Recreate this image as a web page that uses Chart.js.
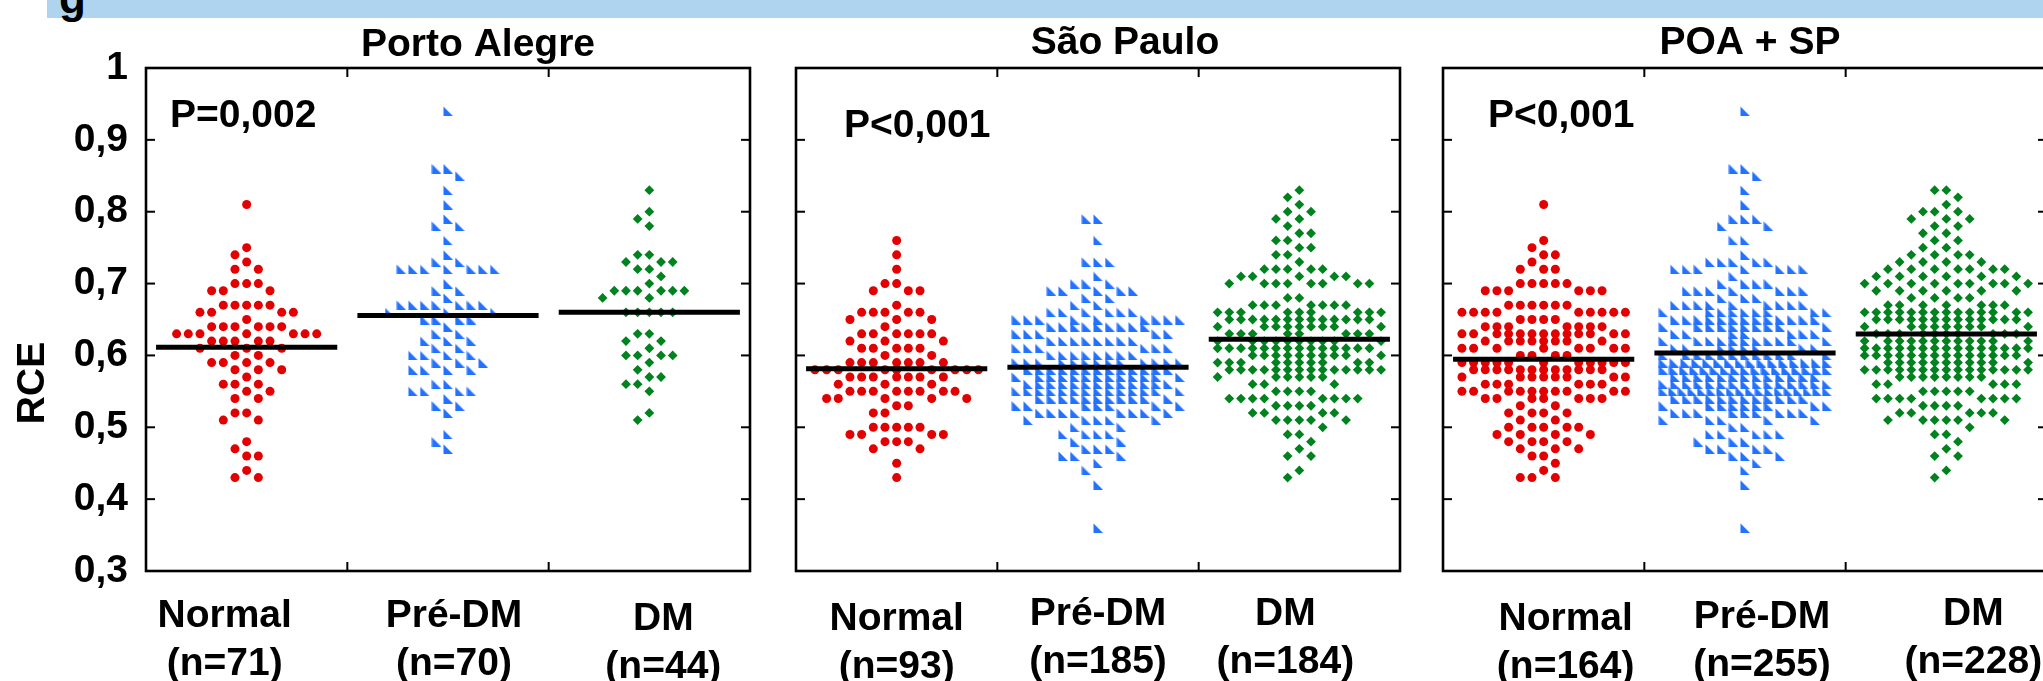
<!DOCTYPE html>
<html>
<head>
<meta charset="utf-8">
<script src="https://cdn.jsdelivr.net/npm/chart.js@4.4.1/dist/chart.umd.min.js"></script>
<style>
    html, body { margin: 0; padding: 0; background: #fff; overflow: hidden; width: 2043px; height: 681px; position: relative; }
    #band { position: absolute; left: 47px; top: 0; width: 1996px; height: 18px; background: #afd4ef; }
    #cut { position: absolute; left: 59px; top: -24px; font: bold 44px/44px "Liberation Sans", Arial, sans-serif; color: #000; }
    canvas { position: absolute; top: 0; }
</style>
</head>
<body>
<div id="band"></div>
<div id="cut">g</div>
<canvas id="c1" width="770" height="681" style="left:0px"></canvas>
<canvas id="c2" width="650" height="681" style="left:770px"></canvas>
<canvas id="c3" width="640" height="681" style="left:1420px"></canvas>
<script>
    // RCE values (each row = value, number of dots)
    var poaNormalVals = [0.81, 0.75, 0.74, 0.73, 0.72, 0.70, 0.69, 0.67, 0.66, 0.65, 0.64, 0.63, 0.62, 0.61, 0.60, 0.59, 0.58, 0.57, 0.56, 0.55, 0.54, 0.52, 0.51, 0.48, 0.47, 0.46, 0.44, 0.43];
    var poaNormalCounts = [1, 1, 1, 1, 2, 3, 3, 5, 4, 1, 6, 7, 5, 3, 2, 4, 3, 1, 3, 2, 2, 2, 2, 1, 1, 2, 1, 2];

    var poaPreVals = [0.94, 0.86, 0.85, 0.83, 0.81, 0.79, 0.78, 0.76, 0.74, 0.73, 0.72, 0.70, 0.69, 0.68, 0.67, 0.66, 0.65, 0.64, 0.63, 0.62, 0.61, 0.60, 0.59, 0.58, 0.56, 0.55, 0.54, 0.53, 0.52, 0.49, 0.48, 0.47];
    var poaPreCounts = [1, 2, 1, 1, 1, 1, 2, 1, 1, 2, 7, 1, 2, 1, 7, 3, 4, 1, 2, 3, 2, 4, 3, 4, 2, 4, 1, 2, 1, 1, 1, 1];

    var poaDmVals = [0.83, 0.80, 0.79, 0.78, 0.74, 0.73, 0.72, 0.71, 0.70, 0.69, 0.68, 0.66, 0.63, 0.62, 0.61, 0.60, 0.59, 0.58, 0.57, 0.56, 0.55, 0.52, 0.51];
    var poaDmCounts = [1, 1, 1, 1, 2, 3, 2, 1, 1, 6, 2, 5, 2, 2, 1, 4, 1, 1, 2, 2, 1, 1, 1];

    var spNormalVals = [0.76, 0.74, 0.72, 0.70, 0.69, 0.67, 0.66, 0.65, 0.64, 0.63, 0.62, 0.61, 0.60, 0.59, 0.58, 0.57, 0.56, 0.55, 0.54, 0.53, 0.52, 0.50, 0.49, 0.48, 0.47, 0.45, 0.43];
    var spNormalCounts = [1, 1, 1, 2, 3, 1, 5, 3, 1, 6, 3, 5, 2, 7, 9, 7, 3, 8, 5, 2, 2, 5, 4, 3, 2, 1, 1];

    var spPreVals = [0.79, 0.76, 0.73, 0.71, 0.70, 0.69, 0.68, 0.67, 0.66, 0.65, 0.64, 0.63, 0.62, 0.61, 0.60, 0.59, 0.58, 0.57, 0.56, 0.55, 0.54, 0.53, 0.52, 0.51, 0.50, 0.49, 0.48, 0.47, 0.46, 0.45, 0.44, 0.42, 0.36];
    var spPreCounts = [2, 1, 3, 1, 3, 5, 2, 2, 6, 9, 9, 5, 8, 6, 8, 13, 13, 13, 13, 14, 11, 7, 8, 5, 2, 4, 2, 3, 3, 1, 1, 1, 1];

    var spDmVals = [0.83, 0.82, 0.81, 0.80, 0.79, 0.78, 0.77, 0.76, 0.75, 0.74, 0.73, 0.72, 0.71, 0.70, 0.68, 0.67, 0.66, 0.65, 0.64, 0.63, 0.62, 0.61, 0.60, 0.59, 0.58, 0.57, 0.56, 0.55, 0.54, 0.53, 0.52, 0.51, 0.50, 0.49, 0.48, 0.47, 0.46, 0.44, 0.43];
    var spDmCounts = [1, 1, 1, 2, 2, 1, 2, 2, 2, 2, 1, 5, 5, 8, 2, 7, 9, 13, 9, 8, 10, 14, 10, 10, 14, 6, 3, 4, 8, 4, 4, 5, 1, 2, 1, 1, 2, 1, 1];

    var groupNames = ["Normal", "Pré-DM", "DM"];
    var panelTitles = ["Porto Alegre", "São Paulo", "POA + SP"];
    var pValues = ["P=0,002", "P<0,001", "P<0,001"];

    var FONT = 'bold 39px "Liberation Sans", Arial, sans-serif';
    var COL = 0.058;   // column step of the dot swarm, in x units
    var KMAX = 7;

    Chart.defaults.font.family = '"Liberation Sans", Arial, sans-serif';
    Chart.defaults.font.weight = "bold";
    Chart.defaults.font.size = 39;
    Chart.defaults.color = "#000";

    function merge(aVals, aCounts, bVals, bCounts) {
        var map = {};
        function add(vals, counts) {
            vals.forEach(function (v, i) {
                var key = Math.round(v * 100);
                map[key] = (map[key] || 0) + counts[i];
            });
        }
        add(aVals, aCounts);
        add(bVals, bCounts);
        var keys = Object.keys(map).map(Number).sort(function (a, b) { return b - a; });
        return { vals: keys.map(function (k) { return k / 100; }), counts: keys.map(function (k) { return map[k]; }) };
    }

    // simple grid beeswarm: each dot goes to the nearest free column of its row,
    // avoiding the columns already used by the neighbouring rows when possible
    function swarm(vals, counts) {
        var rows = vals.map(function (v, i) { return { v: v, n: counts[i] }; }).sort(function (a, b) { return b.v - a.v; });
        var order = [0];
        for (var k = 1; k <= KMAX; k++) { order.push(-k, k); }
        var occ = {};
        var out = [];
        rows.forEach(function (row) {
            var r = Math.round(row.v * 100);
            var near = new Set([].concat(occ[r + 1] || [], occ[r - 1] || []));
            var own = new Set();
            if (row.n > order.length) {
                for (var i = 0; i < row.n; i++) {
                    out.push({ k: -KMAX + i * 2 * KMAX / (row.n - 1), v: row.v });
                }
            } else {
                for (var j = 0; j < row.n; j++) {
                    var c = order.find(function (o) { return !own.has(o) && !near.has(o); });
                    if (c === undefined) { c = order.find(function (o) { return !own.has(o); }); }
                    own.add(c);
                    out.push({ k: c, v: row.v });
                }
            }
            occ[r] = Array.from(own);
        });
        return out;
    }

    function total(counts) { return counts.reduce(function (s, n) { return s + n; }, 0); }
    function mean(vals, counts) {
        var s = 0;
        vals.forEach(function (v, i) { s += v * counts[i]; });
        return s / total(counts);
    }

    function triangleMarker(size, color) {
        var c = document.createElement("canvas");
        c.width = size;
        c.height = size;
        var g = c.getContext("2d");
        g.fillStyle = color;
        g.beginPath();
        g.moveTo(0.5, 0.5);
        g.lineTo(0.5, size);
        g.lineTo(size, size);
        g.closePath();
        g.fill();
        return c;
    }

    var RED = "#e20000", BLUE = "#2272ff", GREEN = "#00821e";
    var markers = [
        { pointStyle: "circle", pointRadius: 4.5, color: RED },
        { pointStyle: triangleMarker(10, BLUE), pointRadius: 5, color: BLUE },
        { pointStyle: "rectRot", pointRadius: 4.9, color: GREEN }
    ];

    var poaAll = [
        { vals: poaNormalVals, counts: poaNormalCounts },
        { vals: poaPreVals, counts: poaPreCounts },
        { vals: poaDmVals, counts: poaDmCounts }
    ];
    var spAll = [
        { vals: spNormalVals, counts: spNormalCounts },
        { vals: spPreVals, counts: spPreCounts },
        { vals: spDmVals, counts: spDmCounts }
    ];
    var bothAll = poaAll.map(function (g, i) {
        return merge(g.vals, g.counts, spAll[i].vals, spAll[i].counts);
    });

    var panels = [
        { id: "c1", left: 0, padL: 0, padR: 20, showY: true, groups: poaAll,
          titleX: 478, titleY: 56, pX: 170, pY: 127, labelShift: [-22, 6, 14], labelY: [627, 627, 630] },
        { id: "c2", left: 770, padL: 26, padR: 20, showY: false, groups: spAll,
          titleX: 1125, titleY: 54, pX: 844, pY: 137, labelShift: [0, 0, -14], labelY: [630, 625, 625] },
        { id: "c3", left: 1420, padL: 23, padR: 13, showY: false, groups: bothAll,
          titleX: 1750, titleY: 54, pX: 1488, pY: 127, labelShift: [22, 17, 27], labelY: [630, 628, 625] }
    ];

    function makeDeco(panel, index) {
        return {
            id: "panelDeco" + index,
            afterDatasetsDraw: function (chart) {
                var ctx = chart.ctx, a = chart.chartArea;
                var xs = chart.scales.x, ys = chart.scales.y;
                function line(x1, y1, x2, y2) { ctx.beginPath(); ctx.moveTo(x1, y1); ctx.lineTo(x2, y2); ctx.stroke(); }
                ctx.save();
                ctx.strokeStyle = "#000";
                ctx.lineWidth = 2;
                ys.ticks.forEach(function (t) {
                    var y = ys.getPixelForValue(t.value);
                    line(a.left, y, a.left + 9, y);
                    line(a.right, y, a.right - 9, y);
                });
                [1.5, 2.5].forEach(function (v) {
                    var x = xs.getPixelForValue(v);
                    line(x, a.top, x, a.top + 9);
                    line(x, a.bottom, x, a.bottom - 9);
                });
                ctx.lineWidth = 2.6;
                ctx.strokeRect(a.left, a.top, a.right - a.left, a.bottom - a.top);

                ctx.font = FONT;
                ctx.fillStyle = "#000";
                ctx.textBaseline = "alphabetic";
                ctx.textAlign = "center";
                ctx.fillText(panelTitles[index], panel.titleX - panel.left, panel.titleY);
                groupNames.forEach(function (name, i) {
                    var x = xs.getPixelForValue(i + 1) + panel.labelShift[i];
                    ctx.fillText(name, x, panel.labelY[i]);
                    ctx.fillText("(n=" + total(panel.groups[i].counts) + ")", x, panel.labelY[i] + 48);
                });
                ctx.textAlign = "left";
                ctx.fillText(pValues[index], panel.pX - panel.left, panel.pY);
                if (panel.showY) {
                    ctx.translate(33, 383);
                    ctx.rotate(-Math.PI / 2);
                    ctx.textAlign = "center";
                    ctx.textBaseline = "middle";
                    ctx.fillText("RCE", 0, 0);
                }
                ctx.restore();
            }
        };
    }

    panels.forEach(function (panel, index) {
        var datasets = [];
        panel.groups.forEach(function (g, i) {
            var m = markers[i];
            datasets.push({
                data: swarm(g.vals, g.counts).map(function (p) { return { x: i + 1 + p.k * COL, y: p.v }; }),
                pointStyle: m.pointStyle,
                pointRadius: m.pointRadius,
                pointBackgroundColor: m.color,
                pointBorderWidth: 0,
                order: 1
            });
            var mu = mean(g.vals, g.counts);
            datasets.push({
                data: [{ x: i + 1 - 0.45, y: mu }, { x: i + 1 + 0.45, y: mu }],
                showLine: true,
                borderColor: "#000",
                borderWidth: 5,
                pointRadius: 0,
                order: 0
            });
        });

        var yAxis = {
            type: "linear",
            min: 0.3,
            max: 1,
            display: panel.showY,
            grid: { display: false },
            border: { display: false },
            ticks: {
                stepSize: 0.1,
                padding: 10,
                font: { size: 39, weight: "bold" },
                callback: function (v) { return String(Math.round(v * 10) / 10).replace(".", ","); }
            }
        };
        if (panel.showY) {
            yAxis.afterFit = function (axis) { axis.width = 146; };
        }

        new Chart(document.getElementById(panel.id), {
            type: "scatter",
            data: { datasets: datasets },
            options: {
                responsive: false,
                devicePixelRatio: 1,
                animation: false,
                events: [],
                layout: { padding: { top: 68, bottom: 110, left: panel.padL, right: panel.padR } },
                plugins: { legend: { display: false }, tooltip: { enabled: false }, title: { display: false } },
                scales: {
                    x: { type: "linear", min: 0.5, max: 3.5, display: false },
                    y: yAxis
                }
            },
            plugins: [makeDeco(panel, index)]
        });
    });
</script>
</body>
</html>
